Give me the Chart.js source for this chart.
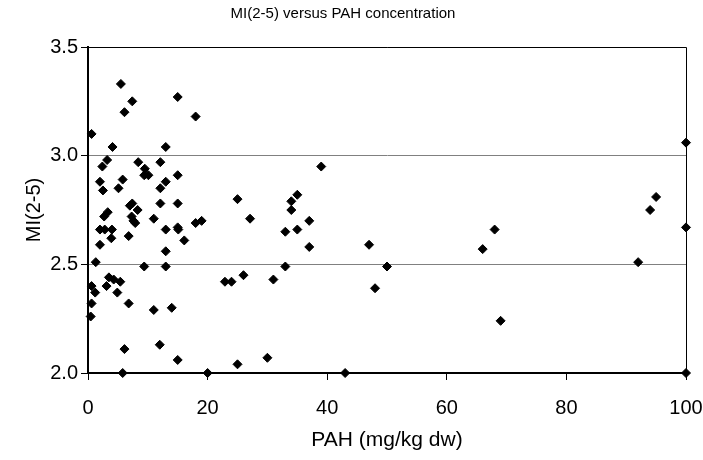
<!DOCTYPE html>
<html lang="en">
<head>
    <meta charset="UTF-8">
    <title>MI(2-5) versus PAH concentration</title>
    <style>
        body { margin: 0; padding: 0; background: #fff; }
        #wrap { width: 703px; height: 460px; }
    </style>
</head>
<body>
    <div id="wrap"><canvas id="miChart" width="703" height="460"></canvas></div>

    <script src="https://cdn.jsdelivr.net/npm/chart.js"></script>
    <script>
        // PAH (mg/kg dw) and matching MI(2-5) values
        const pahValues = [
            0.6, 0.45, 0.6, 0.6, 1.2, 1.3, 2.0, 2.0, 2.0, 2.5,
            2.4, 3.2, 2.7, 3.3, 2.8, 3.1, 3.5, 4.0, 3.9, 4.1,
            4.3, 4.9, 5.1, 5.4, 5.5, 5.8, 5.8, 6.1, 6.1, 6.8,
            6.8, 7.0, 7.4, 7.4, 7.3, 7.6, 7.9, 8.3, 8.4, 9.4,
            9.5, 9.4, 10.1, 11.0, 11.0, 12.1, 12.1, 12.1, 12.0, 13.0,
            13.0, 13.0, 13.0, 13.0, 14.0, 15.0, 15.0, 15.0, 15.1, 15.0,
            15.0, 16.1, 18.0, 18.0, 19.0, 20.0, 22.9, 24.0, 25.0, 25.0,
            26.0, 27.1, 30.0, 31.0, 33.0, 33.0, 34.0, 34.0, 35.0, 35.0,
            37.0, 37.0, 39.0, 43.0, 47.0, 48.0, 50.0, 66.0, 68.0, 69.0,
            92.0, 94.0, 95.0, 100, 100, 100
        ];
        const miValues = [
            3.10, 2.26, 2.32, 2.40, 2.37, 2.51, 2.66, 2.59, 2.88, 2.84,
            2.95, 2.98, 2.72, 2.74, 2.66, 2.40, 2.44, 2.66, 2.62, 3.04,
            2.43, 2.37, 2.85, 2.42, 3.33, 2.89, 2.00, 2.11, 3.20, 2.32,
            2.63, 2.77, 2.78, 3.25, 2.72, 2.70, 2.69, 2.75, 2.97, 2.49,
            2.94, 2.91, 2.91, 2.71, 2.29, 2.97, 2.85, 2.78, 2.13, 2.88,
            3.04, 2.66, 2.56, 2.49, 2.30, 2.91, 2.78, 2.67, 2.66, 3.27,
            2.06, 2.61, 3.18, 2.69, 2.70, 2.00, 2.42, 2.42, 2.80, 2.04,
            2.45, 2.71, 2.07, 2.43, 2.65, 2.49, 2.75, 2.79, 2.82, 2.66,
            2.70, 2.58, 2.95, 2.00, 2.59, 2.39, 2.49, 2.57, 2.66, 2.24,
            2.51, 2.75, 2.81, 3.06, 2.67, 2.00
        ];
        const xTicks = [0, 20, 40, 60, 80, 100];
        const yTicks = [2.0, 2.5, 3.0, 3.5];

        const fontFamily = '"Liberation Sans", Arial, sans-serif';

        // top and right frame lines of the plot area
        const frameLines = {
            id: 'frameLines',
            afterDraw(chart) {
                const a = chart.chartArea;
                const ctx = chart.ctx;
                ctx.save();
                ctx.strokeStyle = '#000';
                ctx.lineWidth = 1;
                ctx.beginPath();
                ctx.moveTo(a.left, a.top + 0.5);
                ctx.lineTo(a.right + 0.5, a.top + 0.5);
                ctx.lineTo(a.right + 0.5, a.bottom);
                ctx.stroke();
                ctx.restore();
            }
        };

        const points = pahValues.map((x, i) => ({ x: x, y: miValues[i] }));

        new Chart(document.getElementById('miChart'), {
            type: 'scatter',
            data: {
                datasets: [{
                    label: 'MI(2-5)',
                    data: points,
                    pointStyle: 'rectRot',
                    pointRadius: 4.5,
                    pointBorderWidth: 1,
                    backgroundColor: '#000',
                    borderColor: '#000',
                    clip: false
                }]
            },
            options: {
                responsive: false,
                animation: false,
                layout: { padding: { left: 0, right: 17, top: 0, bottom: 0 } },
                plugins: {
                    legend: { display: false },
                    tooltip: { enabled: false },
                    title: {
                        display: true,
                        text: 'MI(2-5) versus PAH concentration',
                        color: '#000',
                        font: { family: fontFamily, size: 15, weight: 'normal' },
                        padding: { top: 5, bottom: 24 }
                    }
                },
                scales: {
                    x: {
                        type: 'linear',
                        min: 0,
                        max: 100,
                        afterBuildTicks: s => { s.ticks = xTicks.map(v => ({ value: v })); },
                        afterFit: s => {
                            s.height = 87;
                            s.paddingLeft = 0;
                            s.paddingRight = 0;
                        },
                        grid: { drawOnChartArea: false, tickLength: 7, color: '#000', tickColor: '#000' },
                        border: { color: '#000', width: 2 },
                        ticks: { color: '#000', padding: 16, font: { family: fontFamily, size: 20 } },
                        title: {
                            display: true,
                            text: 'PAH (mg/kg dw)',
                            color: '#000',
                            font: { family: fontFamily, size: 21 },
                            padding: { top: 4, bottom: 7 }
                        }
                    },
                    y: {
                        type: 'linear',
                        min: 2.0,
                        max: 3.5,
                        afterBuildTicks: s => { s.ticks = yTicks.map(v => ({ value: v })); },
                        afterFit: s => { s.width = 88; },
                        grid: { color: '#808080', tickColor: '#000', tickLength: 7, lineWidth: 1 },
                        border: { color: '#000', width: 2 },
                        ticks: {
                            color: '#000',
                            padding: 3,
                            font: { family: fontFamily, size: 20 },
                            callback: v => v.toFixed(1)
                        },
                        title: {
                            display: true,
                            text: 'MI(2-5)',
                            color: '#000',
                            font: { family: fontFamily, size: 20 },
                            padding: { top: 22, bottom: 4 }
                        }
                    }
                }
            },
            plugins: [frameLines]
        });
    </script>
</body>
</html>
